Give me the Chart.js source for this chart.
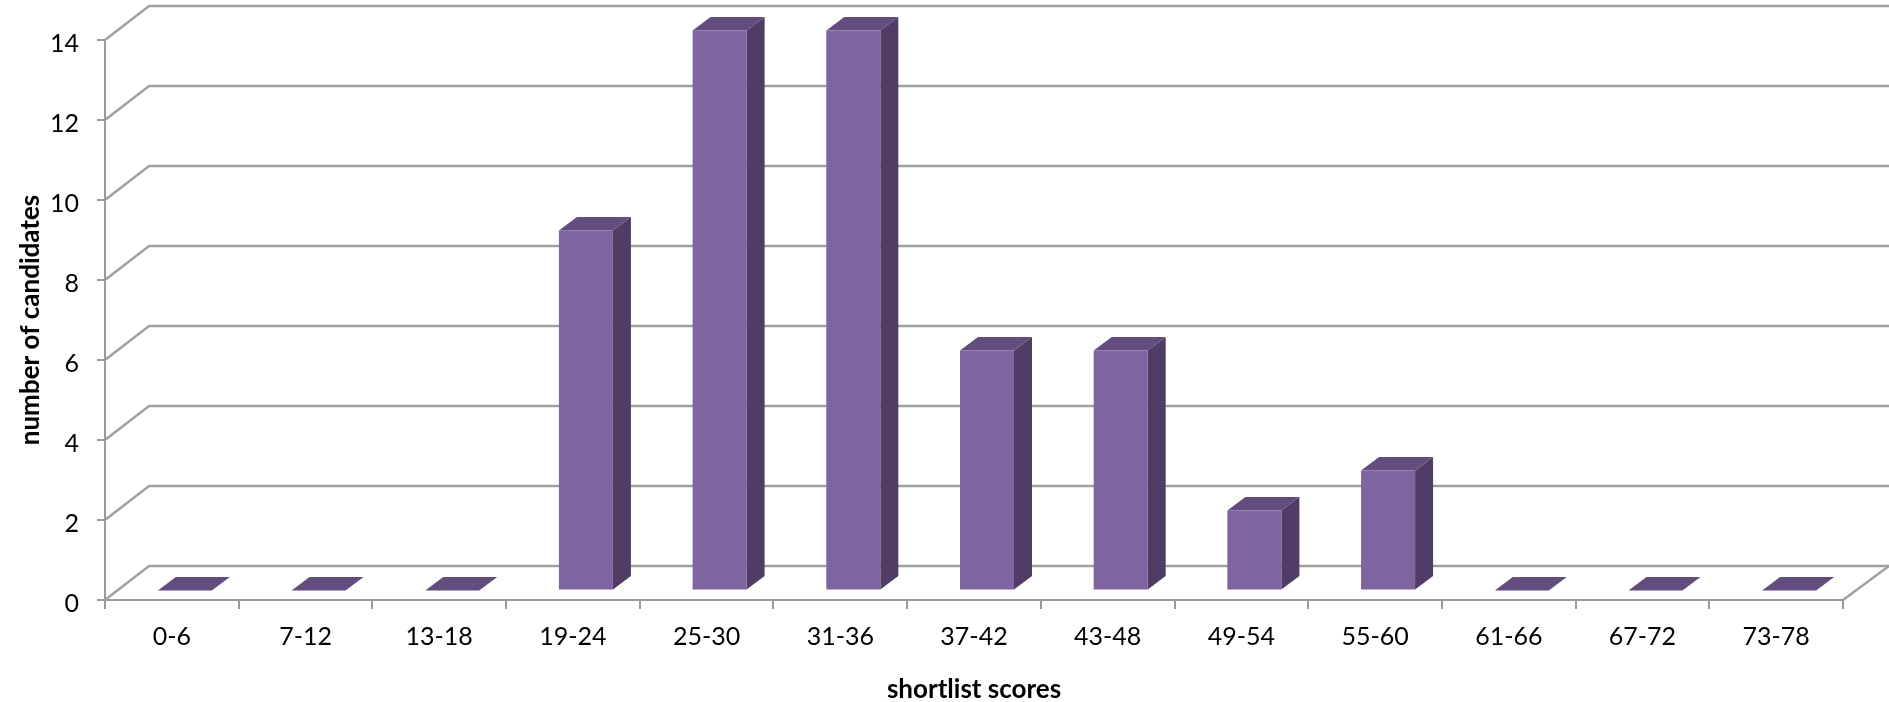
<!DOCTYPE html>
<html>
<head>
<meta charset="utf-8">
<script src="https://cdn.jsdelivr.net/npm/chart.js@4"></script>
<style>
  html, body { margin: 0; padding: 0; background: #fff; overflow: hidden; }
  canvas { display: block; }
</style>
</head>
<body>
<canvas id="chart" width="1889" height="702"></canvas>
<script>
const scoreBands = ['0-6', '7-12', '13-18', '19-24', '25-30', '31-36', '37-42', '43-48', '49-54', '55-60', '61-66', '67-72', '73-78'];
const candidateCounts = [0, 0, 0, 9, 14, 14, 6, 6, 2, 3, 0, 0, 0];
const xTitle = 'shortlist scores';
const yTitle = 'number of candidates';

const GRID = '#a0a0a0';
const AXIS = '#9a9a9a';

// fake Excel 3D look: back wall lines first, then side + top face for each bar
const fake3d = {
    id: 'fake3d',
    beforeDatasetsDraw(chart) {
        const { ctx, chartArea: { left, right }, scales: { y } } = chart;
        const wallX = 44, wallY = 34;
        ctx.save();
        ctx.strokeStyle = GRID;
        ctx.lineWidth = 2.4;
        y.ticks.forEach(t => {
            const py = y.getPixelForValue(t.value);
            ctx.beginPath();
            ctx.moveTo(left, py);
            ctx.lineTo(left + wallX, py - wallY);
            ctx.lineTo(chart.width, py - wallY);
            ctx.stroke();
        });
        // floor edge on the right
        const py0 = y.getPixelForValue(0);
        ctx.beginPath();
        ctx.moveTo(right, py0);
        ctx.lineTo(right + wallX + 2, py0 - wallY);
        ctx.stroke();
        ctx.restore();
    },
    beforeDatasetDraw(chart, args) {
        const ctx = chart.ctx;
        const depthX = 18, depthY = 13.5;
        ctx.save();
        // bars stand a bit inside the floor, not on the front edge
        ctx.translate(13, -9.5);
        args.meta.data.forEach(bar => {
            const l = bar.x - bar.width / 2, r = bar.x + bar.width / 2;
            // side
            ctx.fillStyle = '#513c65';
            ctx.beginPath();
            ctx.moveTo(r, bar.y);
            ctx.lineTo(r + depthX, bar.y - depthY);
            ctx.lineTo(r + depthX, bar.base - depthY);
            ctx.lineTo(r, bar.base);
            ctx.closePath();
            ctx.fill();
            // top
            ctx.fillStyle = '#634c7e';
            ctx.beginPath();
            ctx.moveTo(l, bar.y);
            ctx.lineTo(l + depthX, bar.y - depthY);
            ctx.lineTo(r + depthX, bar.y - depthY);
            ctx.lineTo(r, bar.y);
            ctx.closePath();
            ctx.fill();
        });
    },
    afterDatasetDraw(chart) {
        chart.ctx.restore();
    }
};

new Chart(document.getElementById('chart').getContext('2d'), {
    type: 'bar',
    data: {
        labels: scoreBands,
        datasets: [{
            data: candidateCounts,
            backgroundColor: '#8063a1',
            categoryPercentage: 1,
            barPercentage: 0.404,
            clip: false
        }]
    },
    options: {
        responsive: false,
        animation: false,
        devicePixelRatio: 1,
        layout: { padding: { top: 40, right: 46, left: 0, bottom: 0 } },
        plugins: { legend: { display: false }, tooltip: { enabled: false } },
        scales: {
            x: {
                afterFit: s => { s.height = 102; },
                grid: { drawOnChartArea: false, color: AXIS, lineWidth: 2, tickLength: 9 },
                border: { color: AXIS, width: 2 },
                ticks: { color: '#000', font: { family: 'Lato', size: 25 }, padding: 13, maxRotation: 0, autoSkip: false },
                title: { display: true, text: xTitle, color: '#000', font: { family: 'Lato', size: 26, weight: 'bold' }, padding: { top: 0, bottom: -3 } }
            },
            y: {
                min: 0,
                max: 14,
                afterFit: s => { s.width = 105; },
                grid: { drawOnChartArea: false, color: AXIS, lineWidth: 2, tickLength: 8 },
                border: { color: AXIS, width: 2 },
                ticks: { stepSize: 2, color: '#000', font: { family: 'Lato', size: 25 }, padding: 18, labelOffset: 4 },
                title: { display: true, text: yTitle, color: '#000', font: { family: 'Lato', size: 26, weight: 'bold' }, padding: { top: 15, bottom: 0 } }
            }
        }
    },
    plugins: [fake3d]
});
</script>
</body>
</html>
